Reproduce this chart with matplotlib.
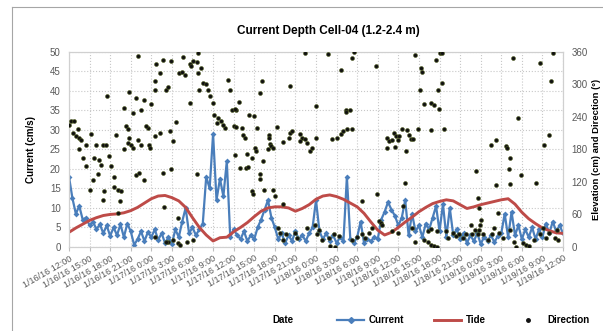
import numpy as np
import matplotlib
matplotlib.use("Agg")
import matplotlib.pyplot as plt
from matplotlib.lines import Line2D

plt.rcParams['font.family'] = ['Liberation Sans', 'DejaVu Sans']

# x tick labels, every 3 hours from 1/16/16 12:00
tick_labels = ["1/16/16 12:00", "1/16/16 15:00", "1/16/16 18:00", "1/16/16 21:00",
               "1/17/16 0:00", "1/17/16 3:00", "1/17/16 6:00", "1/17/16 9:00",
               "1/17/16 12:00", "1/17/16 15:00", "1/17/16 18:00", "1/17/16 21:00",
               "1/18/16 0:00", "1/18/16 3:00", "1/18/16 6:00", "1/18/16 9:00",
               "1/18/16 12:00", "1/18/16 15:00", "1/18/16 18:00", "1/18/16 21:00",
               "1/19/16 0:00", "1/19/16 3:00", "1/19/16 6:00", "1/19/16 9:00",
               "1/19/16 12:00"]

# current speed (cm/s), every 30 min
current = [18.0, 12.5, 8.5, 10.5, 7.0, 7.5, 5.5, 6.5, 4.5, 5.8,
           3.5, 5.5, 2.8, 5.0, 3.0, 5.8, 2.5, 6.0, 4.0, 0.5,
           2.0, 4.0, 1.5, 3.8, 2.5, 4.5, 1.8, 3.5, 1.0, 2.5,
           0.8, 4.5, 2.5, 6.5, 10.0, 3.5, 5.0, 3.0, 4.5, 6.0,
           18.0, 15.0, 29.0, 12.0, 17.5, 13.0, 22.0, 2.5, 4.5, 3.0,
           2.0, 4.0, 1.5, 3.0, 2.0, 5.0, 7.0, 9.5, 12.0, 7.5,
           5.0, 2.0, 3.5, 1.0, 3.0, 1.5, 4.0, 2.0, 3.0, 1.5,
           3.5, 5.0, 12.0, 4.0, 2.0, 3.5, 1.5, 3.0, 1.0, 2.5,
           1.5, 18.0, 2.0, 1.0, 2.5, 6.5, 1.0, 2.0, 1.5, 2.5,
           2.0, 7.0, 9.0, 11.5, 9.5, 8.0, 5.5, 7.5, 12.0, 3.0,
           8.5, 4.0, 5.5, 2.5, 6.0, 4.5, 7.5, 10.5, 4.0, 11.0,
           2.5, 10.0, 3.0, 4.5, 2.0, 3.5, 1.0, 3.0, 1.5, 3.5,
           0.8, 2.5, 1.5, 3.0, 1.2, 2.8, 3.5, 8.5, 2.5, 9.0,
           3.0, 5.5, 2.0, 4.5, 2.5, 5.0, 2.0, 4.5, 2.5, 6.0,
           3.5, 6.5, 4.0, 5.5, 3.5]
current_hours = np.arange(len(current)) * 0.5

# tide elevation (cm), hourly
tide = [27, 35, 42, 49, 54, 58, 60, 61, 63, 67,
        73, 81, 89, 94, 95, 91, 85, 73, 54, 36,
        22, 11, 17, 18, 28, 36, 45, 56, 66, 72,
        74, 74, 72, 66, 71, 78, 88, 94, 96, 93,
        88, 81, 74, 62, 46, 31, 22, 27, 36, 46,
        55, 65, 73, 80, 84, 87, 85, 78, 71, 74,
        78, 81, 84, 87, 89, 79, 64, 52, 43, 35,
        30, 26, 25]
tide_hours = np.arange(len(tide))

# current direction (deg) and time (hours from start)
dir_hours = [0.05, 0.29, 0.78, 0.53, 1.02, 1.26, 1.5, 1.75, 3.2, 1.5, 1.99, 2.48, 2.48, 3.94,
             3.7, 3.45, 4.4, 4.66, 4.2, 4.9, 5.39, 5.88, 6.1, 6.6, 3.06, 5.15, 6.6, 7.1, 7.4,
             7.6, 5.0, 7.1, 5.6, 6.85, 8.07, 8.3, 8.55, 8.8, 9.8, 9.3, 10.5, 11.0, 10.0, 8.8,
             8.55, 9.0, 9.3, 8.07, 9.8, 10.25, 10.5, 11.5, 11.2, 11.7, 11.0, 10.1,
             12.7, 13.7, 13.2, 14.9, 16.6, 18.8, 12.5, 12.6, 14.2, 14.4, 16.1, 16.9, 16.4,
             17.6, 18.1, 17.8, 18.6, 18.8, 19.3, 19.5, 20.0, 19.0, 20.2, 20.5, 21.0, 21.2,
             21.7, 22.2, 22.7, 22.4, 23.2, 23.4, 23.7, 17.6, 11.9, 12.5, 13.2, 14.7, 11.8,
             15.2, 15.6, 13.7, 14.8, 18.6, 13.8, 15.9, 15.2, 15.9, 14.4, 21.5,
             12.5, 14.2, 16.2, 17.2, 18.1,
             34.4, 28.1, 27.8, 32.2, 24.8, 24.3, 24.2, 26.3, 26.9, 24.0, 24.4, 25.2, 25.4,
             25.7, 27.4, 29.1, 30.3, 29.2, 29.3, 29.5, 29.0, 29.8, 31.2, 32.0, 32.2, 32.5,
             33.7, 33.9, 34.4, 34.7, 35.1, 35.4, 33.7, 24.2, 26.0, 26.7, 27.1, 27.3, 28.3,
             24.9, 25.8, 26.1, 27.9, 27.8, 26.6, 26.8, 28.4, 29.8, 30.0, 31.2, 30.5, 30.8,
             31.2, 31.7, 32.9, 33.2, 34.7,
             37.8, 41.5, 41.3, 39.7, 44.7, 36.0, 40.3, 41.0, 40.3, 36.0, 38.3, 39.1, 39.6,
             40.0, 40.5, 41.3, 46.4, 46.6, 47.1, 46.4, 44.9, 42.7, 35.8, 36.4, 36.2,
             37.9, 38.1, 38.8, 36.9, 38.6, 39.3, 41.3, 42.0, 42.7, 43.2, 43.7, 44.2, 45.2,
             45.4, 45.6, 47.1, 48.0,
             50.5, 51.3, 51.4, 54.0, 54.3, 53.5, 54.4, 51.2, 53.8, 51.7, 52.8, 53.2, 53.9,
             50.9, 52.8, 54.6, 47.4, 47.6, 47.9, 48.1, 48.5, 49.3, 49.6, 49.8, 50.1, 47.5,
             49.1, 48.9, 59.3, 59.6, 48.7, 50.0, 52.3, 50.5, 51.8, 52.3, 52.8, 53.2, 53.7,
             54.9, 55.2, 55.9, 56.4, 56.9, 57.4, 57.9, 58.6, 59.2, 59.6, 58.7, 59.9, 52.8,
             53.7,
             64.7, 68.6, 70.5, 70.3, 65.4, 70.0, 69.3, 61.5, 62.2, 63.7, 63.8, 64.3, 64.1,
             65.9, 64.2, 68.1, 62.3, 59.7, 62.5, 60.1, 59.8, 60.3, 61.0, 61.7, 62.0,
             62.7, 63.2, 64.2, 64.9, 65.2, 66.1, 66.6, 67.1, 67.8, 68.6, 69.5, 70.0, 70.8,
             71.3, 71.1, 69.1]
dir_deg = [226, 233, 233, 210, 204, 217, 201, 198, 209, 180, 164, 149, 189, 189,
           164, 124, 161, 152, 135, 189, 189, 167, 149, 130, 106, 104, 110, 106, 84,
           103, 87, 63, 279, 206, 257, 223, 217, 287, 275, 247, 253, 272, 198, 201,
           192, 189, 183, 180, 133, 137, 189, 220, 223, 189, 124, 352,
           337, 346, 321, 343, 350, 358, 306, 289, 290, 295, 321, 318, 323,
           337, 343, 334, 342, 321, 330, 303, 300, 289, 290, 278, 266, 244,
           238, 232, 220, 226, 309, 290, 253, 266, 263, 204, 210, 214, 183,
           195, 230, 137, 143, 135, 73, 54, 13, 7, 10, 229,
           19, 9, 4, 9, 13,
           358, 306, 284, 298, 267, 253, 255, 244, 241, 223, 221, 220, 207,
           202, 220, 206, 221, 201, 190, 186, 181, 183, 194, 201, 210, 214,
           209, 201, 200, 192, 178, 183, 195, 170, 172, 164, 183, 177, 159,
           145, 146, 147, 135, 126, 104, 97, 106, 106, 94, 79, 35, 26,
           13, 23, 26, 17, 35,
           356, 360, 349, 327, 335, 260, 252, 252, 249, 202, 200, 202, 209,
           214, 217, 217, 201, 196, 198, 183, 97, 84, 41, 32, 23,
           17, 1, 0, 13, 23, 20, 13, 18, 23, 17, 26, 35, 47,
           44, 41, 29, 26,
           354, 330, 323, 358, 358, 346, 303, 290, 289, 263, 266, 262, 255,
           218, 215, 218, 210, 204, 198, 204, 217, 215, 206, 200, 200, 184,
           178, 118, 140, 90, 75, 35, 29, 10, 13, 9, 4, 1, 0,
           29, 17, 26, 20, 23, 17, 23, 41, 32, 23, 23, 41, 33,
           29,
           349, 340, 358, 306, 238, 206, 188, 189, 198, 186, 183, 164, 144,
           132, 117, 118, 114, 71, 63, 50, 32, 23, 13, 23, 35,
           26, 17, 32, 10, 0, 7, 4, 2, 13, 23, 17, 26, 17,
           13, 31, 35]

blue = '#4a7ebb'
red = '#be4b48'
grey_txt = '#595959'

fig = plt.figure(figsize=(6.03, 3.31), dpi=100)
ax = fig.add_axes([0.1144, 0.254, 0.8193, 0.589])
ax2 = ax.twinx()

ax.plot(current_hours, current, color=blue, linewidth=1.6, marker='D', markersize=3,
        markeredgewidth=0)
ax2.plot(tide_hours, tide, color=red, linewidth=2.1)
ax2.scatter(dir_hours, dir_deg, s=8, color='#111111', edgecolors='#4d5a1e', linewidths=0.4,
            zorder=5)

ax.set_xlim(0, 72)
ax.set_ylim(0, 50)
ax2.set_ylim(0, 360)
ax.set_xticks(np.arange(0, 73, 3))
ax.set_xticklabels(tick_labels, rotation=30, ha='right', rotation_mode='anchor',
                   fontsize=6.5, color=grey_txt)
ax.set_yticks(np.arange(0, 51, 5))
ax2.set_yticks(np.arange(0, 361, 60))
ax.tick_params(axis='y', length=0, labelsize=7, labelcolor=grey_txt, pad=6)
ax2.tick_params(axis='y', length=0, labelsize=7, labelcolor=grey_txt, pad=6)
ax.tick_params(axis='x', length=3, color='#bfbfbf', pad=2)

ax.grid(True, color='#c8c8c8', linestyle=':', linewidth=0.8)
ax.set_axisbelow(True)
for a in (ax, ax2):
    for sp in a.spines.values():
        sp.set_color('#d0d0d0')
        sp.set_linewidth(0.8)

ax.set_ylabel('Current (cm/s)', fontsize=7, fontweight='bold', labelpad=10)
ax2.set_ylabel('Elevation (cm) and Direction (°)', fontsize=6.8, fontweight='bold',
               labelpad=3)

fig.text(0.545, 0.905, 'Current Depth Cell-04 (1.2-2.4 m)', ha='center', va='center',
         fontsize=8.5, fontweight='bold')
fig.text(0.469, 0.033, 'Date', ha='center', va='center', fontsize=7, fontweight='bold')

handles = [Line2D([], [], color=blue, linewidth=1.6, marker='D', markersize=3),
           Line2D([], [], color=red, linewidth=2.1),
           Line2D([], [], color='#111111', linestyle='none', marker='o', markersize=2.5)]
fig.legend(handles, ['Current', 'Tide', 'Direction'], loc='center', ncol=3,
           bbox_to_anchor=(0.768, 0.033), frameon=False,
           prop={'size': 7, 'weight': 'bold'}, handlelength=2.8, columnspacing=3.0,
           handletextpad=0.5)

# chart area border (left and top edges visible)
fig.add_artist(Line2D([12 / 603, 12 / 603], [0, 1 - 7 / 331], transform=fig.transFigure,
                      color='#a6a6a6', linewidth=0.8))
fig.add_artist(Line2D([12 / 603, 1], [1 - 7 / 331, 1 - 7 / 331], transform=fig.transFigure,
                      color='#a6a6a6', linewidth=0.8))

fig.savefig('out.png', dpi=100)
